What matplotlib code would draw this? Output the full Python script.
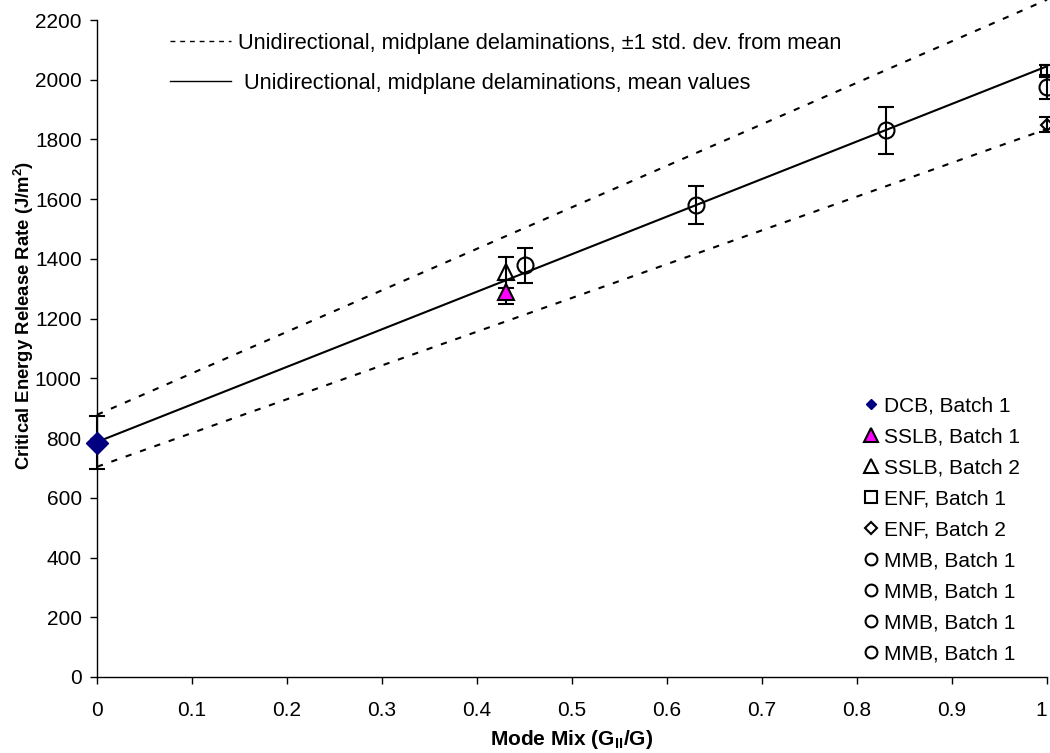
import numpy as np
import matplotlib
matplotlib.use("Agg")
import matplotlib.pyplot as plt
from matplotlib.lines import Line2D

plt.rcParams["font.family"] = ["Liberation Sans", "DejaVu Sans"]
plt.rcParams["mathtext.fontset"] = "custom"
plt.rcParams["mathtext.rm"] = "Liberation Sans"
plt.rcParams["mathtext.bf"] = "Liberation Sans:bold"

# ── Data ───────────────────────────────────────────────
line_x    = [0.0, 1.0]
mean_y    = [787, 2045]
upper_y   = [878, 2268]
lower_y   = [704, 1835]

dcb_x,   dcb_y,   dcb_err   = [0.0],  [785],  [88]
sslb1_x, sslb1_y, sslb1_err = [0.43], [1290], [40]
sslb2_x, sslb2_y, sslb2_err = [0.43], [1355], [52]
enf1_x,  enf1_y,  enf1_err  = [1.0],  [2030], [20]
enf2_x,  enf2_y,  enf2_err  = [1.0],  [1850], [25]
mmb_x   = [0.45, 0.63, 0.83, 1.0]
mmb_y   = [1378, 1580, 1830, 1975]
mmb_err = [60, 63, 80, 40]

x_ticks  = [0, 0.1, 0.2, 0.3, 0.4, 0.5, 0.6, 0.7, 0.8, 0.9, 1.0]
x_labels = ["0", "0.1", "0.2", "0.3", "0.4", "0.5", "0.6", "0.7", "0.8", "0.9", "1"]
y_ticks  = list(range(0, 2201, 200))

FS = 15

# ── Plot ───────────────────────────────────────────────
fig = plt.figure(figsize=(10.5, 7.53), dpi=100)
ax = fig.add_axes([97/1050, 1 - 677/753, 950/1050, 657/753])

ax.plot(line_x, upper_y, color="black", lw=1.5, dashes=(3, 4.3), clip_on=False)
ax.plot(line_x, lower_y, color="black", lw=1.5, dashes=(3, 4.3), clip_on=False)
ax.plot(line_x, mean_y, color="black", lw=1.5, clip_on=False)

eb = dict(fmt="none", ecolor="black", elinewidth=1.5, capsize=5.5, capthick=1.5, clip_on=False)
for x, y, e in [(dcb_x, dcb_y, dcb_err), (sslb1_x, sslb1_y, sslb1_err),
                (sslb2_x, sslb2_y, sslb2_err), (enf1_x, enf1_y, enf1_err),
                (enf2_x, enf2_y, enf2_err), (mmb_x, mmb_y, mmb_err)]:
    c = ax.errorbar(x, y, yerr=e, **eb)
    for art in c.lines[1] + c.lines[2]:
        art.set_clip_on(False)

mk = dict(linestyle="none", clip_on=False, zorder=5)
ax.plot(dcb_x, dcb_y, marker="D", ms=11, mfc="#000080", mec="#000080", **mk)
ax.plot(sslb1_x, sslb1_y, marker="^", ms=11, mfc="#ff00ff", mec="black", mew=1.5, **mk)
ax.plot(sslb2_x, sslb2_y, marker="^", ms=11, mfc="none", mec="black", mew=1.5, **mk)
ax.plot(enf1_x, enf1_y, marker="s", ms=9, mfc="none", mec="black", mew=1.5, **mk)
ax.plot(enf2_x, enf2_y, marker="D", ms=6.5, mfc="none", mec="black", mew=1.5, **mk)
ax.plot(mmb_x, mmb_y, marker="o", ms=11.5, mfc="none", mec="black", mew=1.5, **mk)

ax.set_xlim(0, 1)
ax.set_ylim(0, 2200)
ax.set_xticks(x_ticks)
ax.set_xticklabels(x_labels)
ax.get_xticklabels()[-1].set_horizontalalignment("right")
ax.set_yticks(y_ticks)
ax.tick_params(direction="out", length=5, width=1, labelsize=FS, pad=6)
ax.tick_params(axis="x", pad=12)
for s in ["top", "right"]:
    ax.spines[s].set_visible(False)
for s in ["left", "bottom"]:
    ax.spines[s].set_linewidth(1)

ax.set_xlabel(r"Mode Mix (G$_{\mathbf{II}}$/G)", fontsize=FS, fontweight="bold", labelpad=6)
ax.set_ylabel(r"Critical Energy Release Rate (J/m$^{\mathbf{2}}$)", fontsize=13.3, fontweight="bold")
ax.yaxis.set_label_coords(-0.064, 0.551)

# marker legend
leg_h = [
    Line2D([], [], ls="none", marker="D", ms=5.5, mfc="#000080", mec="#000080"),
    Line2D([], [], ls="none", marker="^", ms=9.5, mfc="#ff00ff", mec="black", mew=1.5),
    Line2D([], [], ls="none", marker="^", ms=9.5, mfc="none", mec="black", mew=1.5),
    Line2D([], [], ls="none", marker="s", ms=8.5, mfc="none", mec="black", mew=1.5),
    Line2D([], [], ls="none", marker="D", ms=6.5, mfc="none", mec="black", mew=1.5),
] + [Line2D([], [], ls="none", marker="o", ms=8.5, mfc="none", mec="black", mew=1.5)
     for _ in mmb_x]
leg_labels = ["DCB, Batch 1", "SSLB, Batch 1", "SSLB, Batch 2", "ENF, Batch 1",
              "ENF, Batch 2"] + ["MMB, Batch 1"] * len(mmb_x)
leg1 = ax.legend(handles=leg_h, labels=leg_labels, loc="upper left",
                 bbox_to_anchor=(863/1050, 1 - 396/753),
                 bbox_transform=fig.transFigure, frameon=False, fontsize=FS,
                 handlelength=0.8, handletextpad=0.2, labelspacing=0.58,
                 borderpad=0, borderaxespad=0)
ax.add_artist(leg1)

# line legend
lh = [Line2D([], [], color="black", lw=1, dashes=(3.5, 3.5)),
      Line2D([], [], color="black", lw=1)]
ax.legend(handles=lh,
          labels=["Unidirectional, midplane delaminations, \u00b11 std. dev. from mean",
                  " Unidirectional, midplane delaminations, mean values"],
          loc="upper left", bbox_to_anchor=(170/1050, 1 - 33/753),
          bbox_transform=fig.transFigure, frameon=False, fontsize=15.7,
          handlelength=2.8, handletextpad=0.33, labelspacing=0.85,
          borderpad=0, borderaxespad=0)

fig.savefig("out.png", dpi=100)
